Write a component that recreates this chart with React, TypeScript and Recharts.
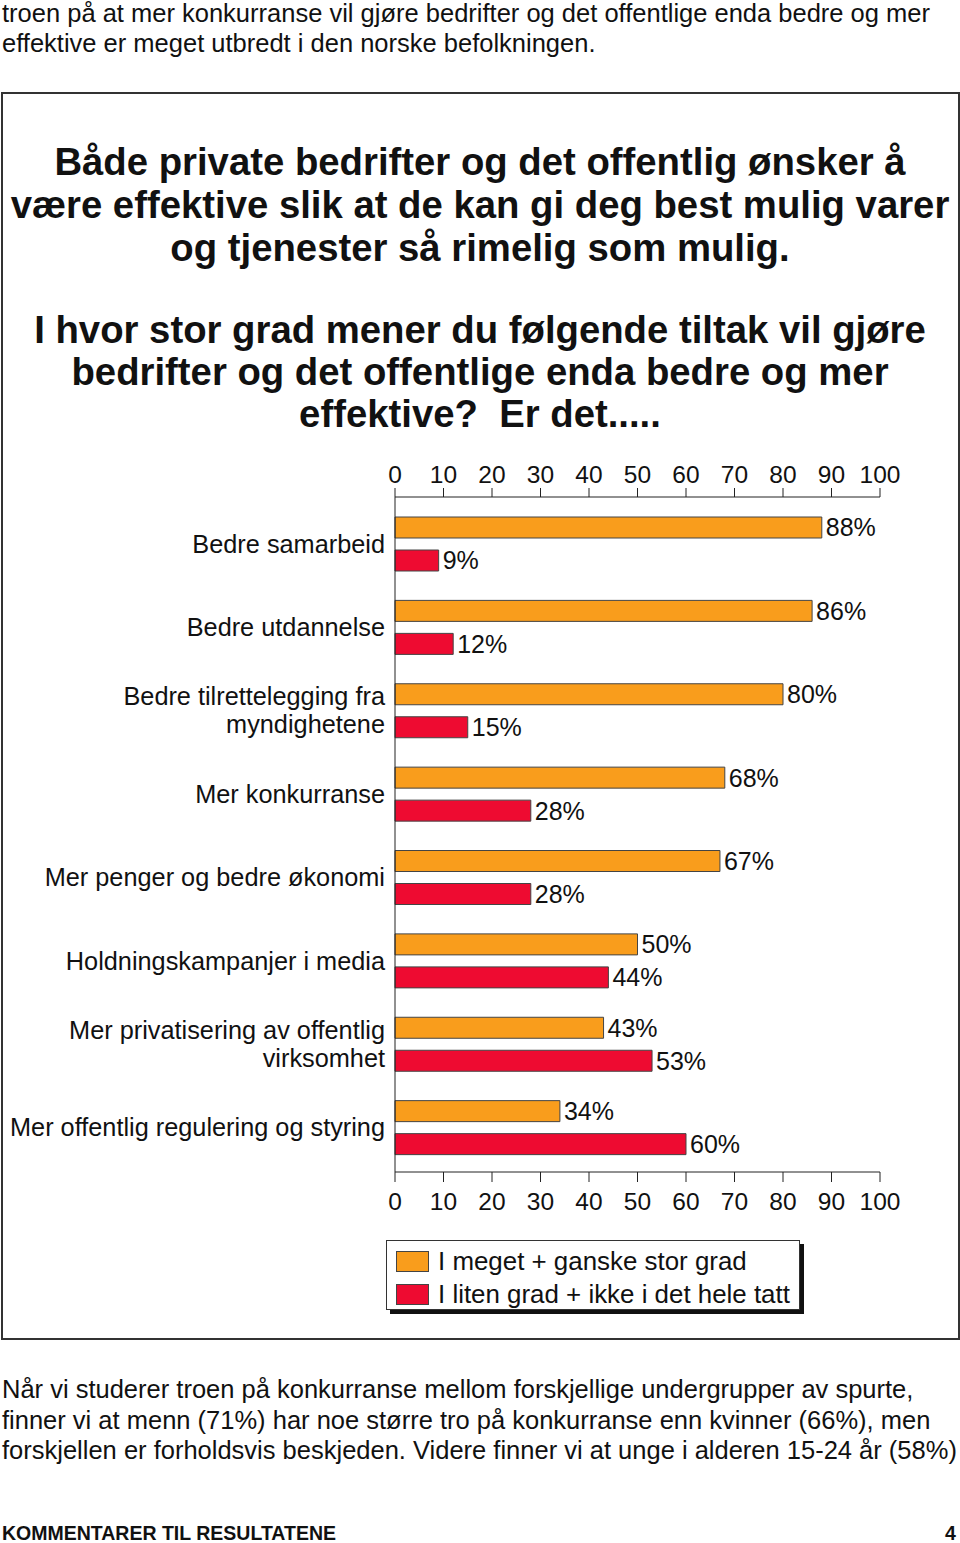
import React from "react";
import { BarChart, Bar, XAxis, YAxis, LabelList } from "recharts";

const categories = [
  "Bedre samarbeid",
  "Bedre utdannelse",
  "Bedre tilrettelegging fra\nmyndighetene",
  "Mer konkurranse",
  "Mer penger og bedre økonomi",
  "Holdningskampanjer i media",
  "Mer privatisering av offentlig\nvirksomhet",
  "Mer offentlig regulering og styring",
];
const stor = [88, 86, 80, 68, 67, 50, 43, 34];
const liten = [9, 12, 15, 28, 28, 44, 53, 60];
const ticks = [0, 10, 20, 30, 40, 50, 60, 70, 80, 90, 100];
const seriesNames = ["I meget + ganske stor grad", "I liten grad + ikke i det hele tatt"];

const ORANGE = "#F99D1C";
const RED = "#EE0B31";
const FONT = "'Liberation Sans', Arial, Helvetica, sans-serif";

const data = categories.map((c, i) => ({ name: c, stor: stor[i], liten: liten[i] }));

function CategoryTick(props: any) {
  const { x, y, payload } = props;
  const lines = String(payload.value).split("\n");
  const lh = 28;
  const start = -((lines.length - 1) * lh) / 2;
  return (
    <text x={x - 2} y={y} textAnchor="end" fontSize={25.3} fill="#111" fontFamily={FONT}>
      {lines.map((l, i) => (
        <tspan key={i} x={x - 2} dy={i === 0 ? start + 9 : lh}>
          {l}
        </tspan>
      ))}
    </text>
  );
}

const pct = (v: any) => `${v}%`;

export default function App() {
  const text: React.CSSProperties = { position: "absolute", fontFamily: FONT, color: "#111", whiteSpace: "nowrap" };
  const body = { ...text, fontSize: 25.5, left: 2, lineHeight: "30px" };
  const title = { ...text, fontSize: 38.3, fontWeight: 700, left: 0, width: 960, textAlign: "center" as const, lineHeight: "43px" };
  return (
    <div style={{ position: "relative", width: 960, height: 1543, background: "#fff", overflow: "hidden" }}>
      <style>{"body{margin:0}"}</style>
      <div style={{ ...body, top: -2 }}>
        troen på at mer konkurranse vil gjøre bedrifter og det offentlige enda bedre og mer
        <br />
        effektive er meget utbredt i den norske befolkningen.
      </div>

      <div style={{ position: "absolute", left: 1, top: 92, width: 955, height: 1244, border: "2px solid #333" }} />

      <div style={{ ...title, top: 140 }}>
        Både private bedrifter og det offentlig ønsker å
        <br />
        være effektive slik at de kan gi deg best mulig varer
        <br />
        og tjenester så rimelig som mulig.
      </div>
      <div style={{ ...title, top: 309, lineHeight: "42px" }}>
        I hvor stor grad mener du følgende tiltak vil gjøre
        <br />
        bedrifter og det offentlige enda bedre og mer
        <br />
        effektive?&nbsp; Er det.....
      </div>

      <div style={{ position: "absolute", left: 0, top: 440 }}>
        <BarChart
          layout="vertical"
          width={960}
          height={782}
          data={data}
          margin={{ top: 0, right: 80, left: 195, bottom: 0 }}
          barSize={21}
          barGap={6}
        >
          <XAxis
            xAxisId="top"
            orientation="top"
            type="number"
            domain={[0, 100]}
            allowDataOverflow
            ticks={ticks}
            height={57}
            tickSize={9}
            tickMargin={5}
            stroke="#222"
            tick={{ fontSize: 24.5, fill: "#111", fontFamily: FONT }}
          />
          <XAxis
            xAxisId="bottom"
            orientation="bottom"
            type="number"
            domain={[0, 100]}
            ticks={ticks}
            height={50}
            tickSize={10}
            tickMargin={11}
            stroke="#222"
            tick={{ fontSize: 24.5, fill: "#111", fontFamily: FONT }}
          />
          <YAxis
            type="category"
            dataKey="name"
            width={200}
            tickLine={false}
            stroke="#222"
            padding={{ top: 5, bottom: 3 }}
            tick={<CategoryTick />}
            interval={0}
          />
          <Bar xAxisId="bottom" dataKey="stor" fill={ORANGE} stroke="#444" strokeWidth={1} isAnimationActive={false}>
            <LabelList dataKey="stor" position="right" offset={4} formatter={pct} fontSize={25} fill="#111" fontFamily={FONT} />
          </Bar>
          {/* empty, zero-width series so the top axis gets its scale */}
          <Bar xAxisId="top" dataKey="none" barSize={0.001} fill="none" legendType="none" isAnimationActive={false} />
          <Bar xAxisId="bottom" dataKey="liten" fill={RED} stroke="#444" strokeWidth={1} isAnimationActive={false}>
            <LabelList dataKey="liten" position="right" offset={4} formatter={pct} fontSize={25} fill="#111" fontFamily={FONT} />
          </Bar>
        </BarChart>
      </div>

      <div
        style={{
          position: "absolute",
          left: 386,
          top: 1240,
          width: 412,
          height: 68,
          border: "1px solid #333",
          boxShadow: "4px 4px 0 #111",
          background: "#fff",
        }}
      >
        {seriesNames.map((n, i) => (
          <div key={n} style={{ ...text, left: 9, top: 9 + i * 33, height: 22, display: "flex", alignItems: "center" }}>
            <span style={{ width: 31, height: 19, background: i === 0 ? ORANGE : RED, border: "1px solid #444", display: "inline-block" }} />
            <span style={{ fontSize: 25.9, marginLeft: 9 }}>{n}</span>
          </div>
        ))}
      </div>

      <div style={{ ...body, top: 1374, lineHeight: "30.5px" }}>
        Når vi studerer troen på konkurranse mellom forskjellige undergrupper av spurte,
        <br />
        finner vi at menn (71%) har noe større tro på konkurranse enn kvinner (66%), men
        <br />
        forskjellen er forholdsvis beskjeden. Videre finner vi at unge i alderen 15-24 år (58%)
      </div>

      <div style={{ ...text, left: 2, top: 1522, fontSize: 19.5, fontWeight: 700 }}>KOMMENTARER TIL RESULTATENE</div>
      <div style={{ ...text, left: 945, top: 1522, fontSize: 19.5, fontWeight: 700 }}>4</div>
    </div>
  );
}
